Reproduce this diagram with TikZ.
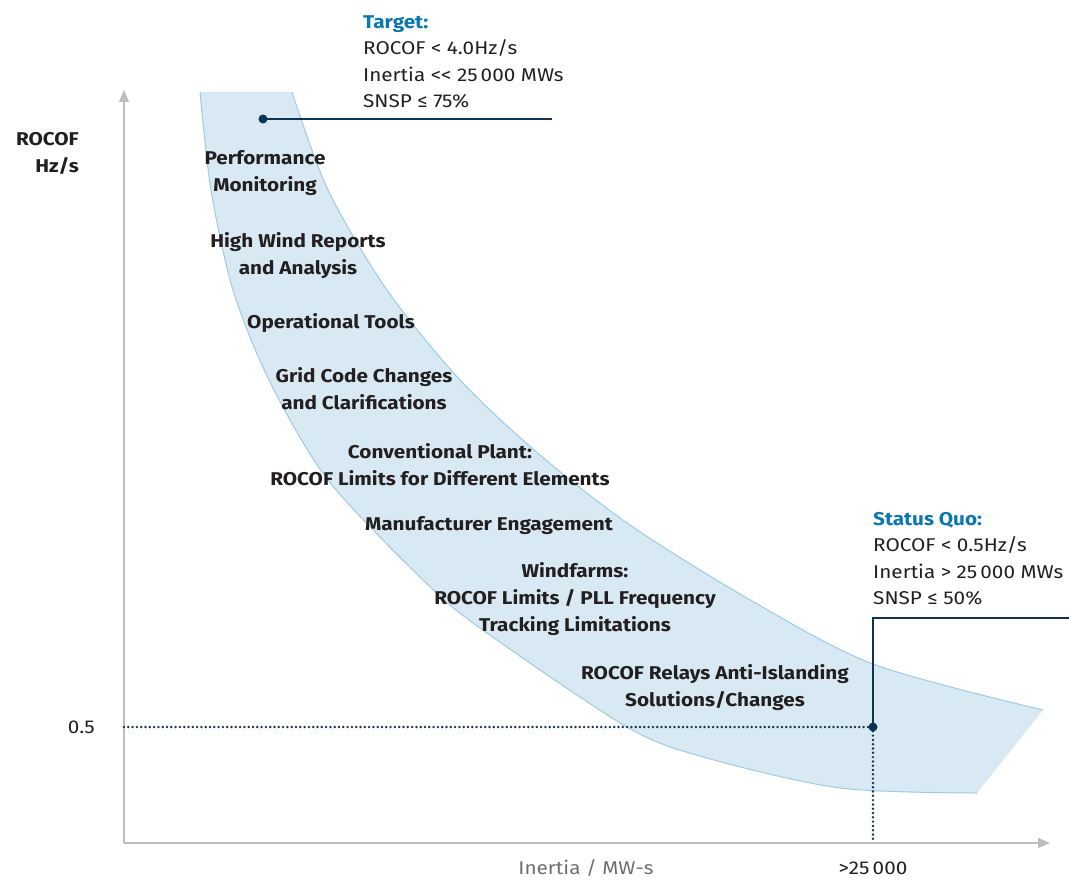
\documentclass[tikz,border=0pt]{standalone}
\usepackage{fontspec}
\setmainfont[FakeStretch=1.12]{Fira Sans}
\usetikzlibrary{arrows.meta}
\definecolor{bandfill}{HTML}{D8E9F3}
\definecolor{bandline}{HTML}{9CCBE2}
\definecolor{navy}{HTML}{0D3455}
\definecolor{axisgray}{HTML}{BDBDBD}
\definecolor{titleblue}{HTML}{0A78B0}
\definecolor{txt}{HTML}{231F20}
\definecolor{graytxt}{HTML}{6D6E70}
\begin{document}
\begin{tikzpicture}[x=1pt,y=-1pt,
  lbl/.style={font=\fontsize{18.5}{27}\selectfont\bfseries, text=txt, align=center, inner sep=0pt},
  info/.style={font=\fontsize{18.5}{26.5}\selectfont, text=txt, align=left, inner sep=0pt, anchor=north west},
  plain/.style={font=\fontsize{18.5}{22}\selectfont, text=txt, inner sep=0pt},
  axis/.style={draw=axisgray, line width=1.3pt, -{Triangle[length=12pt,width=10pt]}},
  dots/.style={draw=navy, line width=2.7pt, dash pattern=on 0pt off 4.3pt, line cap=round},
  lead/.style={draw=navy, line width=1.3pt},
  bullet/.style={circle, fill=navy, inner sep=0pt, minimum size=9pt},
  edge/.style={bandline, line width=1pt}]
\useasboundingbox (0,0) rectangle (1069,879);
\def\lowercurve{(200,92) (211,190) (233,290) (270,382) (328,480) (423,580) (480,628) (627,727) (707,758) (840,788) (977,793)}
\def\uppercurve{(1043,710) (873,664) (747,598) (630,525) (540,455) (460,380) (387,290) (328,190) (292,92)}
% band
\fill[bandfill] plot[smooth, tension=0.5] coordinates \lowercurve -- (1043,710)
  -- plot[smooth, tension=0.5] coordinates \uppercurve -- cycle;
\draw[edge] plot[smooth, tension=0.5] coordinates \lowercurve;
\draw[edge] plot[smooth, tension=0.5] coordinates \uppercurve;
% axes
\coordinate (origin) at (124,843);
\coordinate (ytip) at (124,90);
\coordinate (xtip) at (1050,843);
\draw[axis] (origin) -- (ytip);
\draw[axis] (origin) -- (xtip);
% status quo marker
\node[bullet] (sq) at (873,727) {};
\coordinate (yhalf) at (124,727);
\coordinate (xsq) at (873,843);
\coordinate (sqbend) at (873,618);
\coordinate (sqend) at (1069,618);
\draw[dots] (yhalf) -- (sq.center);
\draw[dots] (sq.center) -- (xsq);
\draw[lead] (sq.center) -- (sqbend) -- (sqend);
% target marker
\node[bullet] (tg) at (263,119) {};
\coordinate (tgend) at (552,119);
\draw[lead] (tg.center) -- (tgend);
% info blocks
\node[info] (target) at (363,15) {{\color{titleblue}\bfseries Target:}\\ROCOF < 4.0Hz/s\\Inertia <\kern0pt< 25\,000 MWs\\SNSP ≤ 75\%};
\node[info] (status) at (873,512) {{\color{titleblue}\bfseries Status Quo:}\\ROCOF < 0.5Hz/s\\Inertia > 25\,000 MWs\\SNSP ≤ 50\%};
% axis labels
\node[lbl, align=right, anchor=east] (ylab) at (79,153) {ROCOF\\Hz/s};
\node[plain, anchor=east] (half) at (95,727) {0.5};
\node[plain, text=graytxt] (xlab) at (586,868) {Inertia / MW-s};
\node[plain] (xval) at (873,868) {>25\,000};
% band labels
\node[lbl] (l1) at (265,173) {Performance\\Monitoring};
\node[lbl] (l2) at (298,256) {High Wind Reports\\and Analysis};
\node[lbl] (l3) at (331,323) {Operational Tools};
\node[lbl] (l4) at (364,389) {Grid Code Changes\\and Clarifications};
\node[lbl] (l5) at (440,465) {Conventional Plant:\\ROCOF Limits for Different Elements};
\node[lbl] (l6) at (489,526) {Manufacturer Engagement};
\node[lbl] (l7) at (575,599) {Windfarms:\\ROCOF Limits / PLL Frequency\\Tracking Limitations};
\node[lbl] (l8) at (715,688) {ROCOF Relays Anti-Islanding\\Solutions/Changes};
\end{tikzpicture}
\end{document}
